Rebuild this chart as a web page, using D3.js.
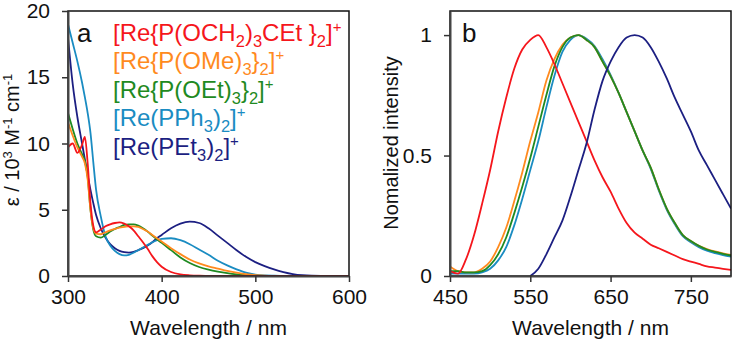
<!DOCTYPE html>
<html>
<head>
<meta charset="utf-8">
<script src="https://cdn.jsdelivr.net/npm/d3@7/dist/d3.min.js"></script>
<style>
  body { margin: 0; background: #fff; }
  svg { display: block; font-family: "Liberation Sans", Arial, sans-serif; }
</style>
</head>
<body>
<svg id="chart" width="736" height="342"></svg>
<script>
// ---- panel a: absorption (ε / 10^3 M^-1 cm^-1) ----
const absWavelength = [300, 305, 310, 315, 318, 321, 324, 327, 330, 335, 340, 345, 350, 355, 360, 365, 370, 375, 380, 385,
  390, 395, 400, 410, 420, 430, 440, 450, 460, 470, 480, 490, 500, 510, 520, 530, 540, 550, 560, 580, 600];
const absOCH2 = [9.7, 10.0, 9.3, 9.9, 10.5, 8.5, 5.5, 3.8, 3.3, 3.5, 3.75, 3.9, 4.0, 4.05, 3.95, 3.75, 3.45, 3.0, 2.55, 2.05,
  1.5, 1.05, 0.7, 0.3, 0.12, 0.05, 0.02, 0.01, 0, 0, 0, 0, 0, 0, 0, 0, 0, 0, 0, 0, 0];
const absOMe = [11.6, 10.6, 9.7, 9.0, 8.5, 7.3, 5.0, 3.6, 3.2, 3.15, 3.3, 3.45, 3.55, 3.65, 3.7, 3.75, 3.75, 3.7, 3.55, 3.35,
  3.1, 2.85, 2.6, 2.1, 1.65, 1.25, 0.95, 0.72, 0.55, 0.38, 0.25, 0.14, 0.07, 0.03, 0.01, 0, 0, 0, 0, 0, 0];
const absOEt = [12.3, 11.1, 10.0, 9.2, 8.7, 7.5, 5.0, 3.5, 3.0, 2.9, 3.1, 3.35, 3.55, 3.7, 3.85, 3.9, 3.9, 3.8, 3.6, 3.35,
  3.05, 2.75, 2.5, 1.95, 1.4, 0.98, 0.68, 0.48, 0.33, 0.21, 0.12, 0.06, 0.03, 0.01, 0, 0, 0, 0, 0, 0, 0];
const absPPh3 = [19.0, 17.6, 16.2, 14.6, 13.5, 12.3, 10.8, 8.6, 6.5, 4.5, 3.0, 2.3, 1.9, 1.65, 1.55, 1.6, 1.75, 1.95, 2.15, 2.35,
  2.55, 2.7, 2.8, 2.85, 2.7, 2.4, 2.0, 1.6, 1.15, 0.8, 0.5, 0.25, 0.1, 0.04, 0.02, 0.01, 0, 0, 0, 0, 0];
const absPEt3 = [18.0, 14.5, 12.0, 10.0, 8.8, 7.6, 6.5, 5.5, 4.6, 3.6, 2.9, 2.4, 2.1, 1.9, 1.8, 1.77, 1.82, 1.95, 2.1, 2.3,
  2.55, 2.85, 3.1, 3.6, 3.95, 4.1, 4.0, 3.6, 3.05, 2.5, 1.95, 1.45, 1.05, 0.75, 0.5, 0.3, 0.15, 0.06, 0.02, 0, 0];
const absXTicks = [300, 400, 500, 600];
const absYTicks = [0, 5, 10, 15, 20];

// ---- panel b: normalized emission ----
const emWavelength = [450, 460, 470, 480, 490, 500, 510, 520, 530, 540, 550, 560, 570, 580, 590, 600, 610, 620, 630, 640,
  650, 660, 670, 680, 690, 700, 710, 720, 730, 740, 750, 760, 770, 780, 790, 800];
const emOCH2 = [0.02, 0.01, 0.07, 0.17, 0.3, 0.44, 0.6, 0.74, 0.86, 0.94, 0.98, 1.0, 0.95, 0.88, 0.8, 0.72, 0.64, 0.56, 0.48, 0.41,
  0.35, 0.28, 0.22, 0.18, 0.155, 0.13, 0.115, 0.1, 0.085, 0.07, 0.06, 0.05, 0.04, 0.035, 0.03, 0.025];
const emOMe = [0.04, 0.02, 0.015, 0.015, 0.03, 0.06, 0.12, 0.2, 0.31, 0.43, 0.56, 0.68, 0.81, 0.9, 0.96, 0.99, 1.0, 0.98, 0.95, 0.89,
  0.83, 0.76, 0.68, 0.6, 0.52, 0.45, 0.36, 0.28, 0.22, 0.17, 0.145, 0.125, 0.112, 0.102, 0.094, 0.087];
const emOEt = [0.02, 0.02, 0.015, 0.015, 0.02, 0.045, 0.09, 0.16, 0.26, 0.37, 0.49, 0.62, 0.75, 0.87, 0.95, 0.99, 1.0, 0.98, 0.95, 0.89,
  0.83, 0.76, 0.68, 0.6, 0.52, 0.45, 0.36, 0.28, 0.22, 0.17, 0.145, 0.125, 0.11, 0.1, 0.092, 0.085];
const emPPh3 = [0.01, 0.01, 0.01, 0.01, 0.015, 0.03, 0.065, 0.12, 0.21, 0.32, 0.44, 0.56, 0.7, 0.83, 0.93, 0.98, 1.0, 0.985, 0.955, 0.9,
  0.835, 0.76, 0.68, 0.6, 0.52, 0.445, 0.355, 0.275, 0.215, 0.165, 0.14, 0.12, 0.105, 0.095, 0.087, 0.08];
const emPEt3 = [null, null, null, null, null, null, null, null, null, null, 0, 0.03, 0.09, 0.16, 0.23, 0.33, 0.44, 0.55, 0.69, 0.81,
  0.89, 0.95, 0.99, 1.0, 0.99, 0.95, 0.89, 0.82, 0.74, 0.67, 0.6, 0.52, 0.46, 0.4, 0.34, 0.28];
const emXTicks = [450, 550, 650, 750];
const emYTicks = [0, 0.5, 1];

const COLORS = {
  och2: '#f5161c',
  ome: '#ff8a1e',
  oet: '#1f8a22',
  pph3: '#1a8cc2',
  pet3: '#1c1f82'
};

// legend text pieces: [text, kind]
const legendLabels = [
  { key: 'och2', parts: [['[Re{P(OCH'], ['2', 'sub'], [')'], ['3', 'sub'], ['CEt }'], ['2', 'sub'], [']'], ['+', 'sup']] },
  { key: 'ome', parts: [['[Re{P(OMe)'], ['3', 'sub'], ['}'], ['2', 'sub'], [']'], ['+', 'sup']] },
  { key: 'oet', parts: [['[Re{P(OEt)'], ['3', 'sub'], ['}'], ['2', 'sub'], [']'], ['+', 'sup']] },
  { key: 'pph3', parts: [['[Re(PPh'], ['3', 'sub'], [')'], ['2', 'sub'], [']'], ['+', 'sup']] },
  { key: 'pet3', parts: [['[Re(PEt'], ['3', 'sub'], [')'], ['2', 'sub'], [']'], ['+', 'sup']] }
];

const svg = d3.select('#chart');
const TICK_FONT = 21;

function drawPanel(cfg) {
  const x = d3.scaleLinear().domain(cfg.xDomain).range([cfg.left, cfg.right]);
  const y = d3.scaleLinear().domain(cfg.yDomain).range([cfg.bottom, cfg.top]);
  const g = svg.append('g');

  g.append('clipPath').attr('id', cfg.id + '-clip')
    .append('rect')
    .attr('x', cfg.left).attr('y', cfg.top)
    .attr('width', cfg.right - cfg.left).attr('height', cfg.bottom - cfg.top);

  const line = d3.line()
    .defined((d) => d[1] != null)
    .x((d) => x(d[0]))
    .y((d) => y(d[1]))
    .curve(d3.curveMonotoneX);

  const curves = g.append('g').attr('clip-path', `url(#${cfg.id}-clip)`);
  cfg.series.forEach((s) => {
    curves.append('path')
      .datum(cfg.xs.map((w, i) => [w, s.values[i]]))
      .attr('fill', 'none')
      .attr('stroke', COLORS[s.key])
      .attr('stroke-width', 1.8)
      .attr('stroke-linejoin', 'round')
      .attr('d', line);
  });

  // frame
  g.append('rect')
    .attr('x', cfg.left).attr('y', cfg.top)
    .attr('width', cfg.right - cfg.left).attr('height', cfg.bottom - cfg.top)
    .attr('fill', 'none').attr('stroke', '#111').attr('stroke-width', 1.5);

  g.append('g')
    .attr('transform', `translate(0,${cfg.bottom})`)
    .call(d3.axisBottom(x).tickValues(cfg.xTicks).tickSize(6).tickPadding(7).tickSizeOuter(0))
    .call((a) => a.select('.domain').attr('stroke', '#444').attr('stroke-width', 2))
    .call((a) => a.selectAll('line').attr('stroke', '#333').attr('stroke-width', 1.5))
    .call((a) => a.selectAll('text').attr('font-size', TICK_FONT).attr('fill', '#111')
      .attr('font-family', '"Liberation Sans", Arial, sans-serif'));

  g.append('g')
    .attr('transform', `translate(${cfg.left},0)`)
    .call(d3.axisLeft(y).tickValues(cfg.yTicks).tickSize(6).tickPadding(12).tickSizeOuter(0).tickFormat(cfg.yFormat))
    .call((a) => a.select('.domain').attr('stroke', '#444').attr('stroke-width', 2))
    .call((a) => a.selectAll('line').attr('stroke', '#333').attr('stroke-width', 1.5))
    .call((a) => a.selectAll('text').attr('font-size', TICK_FONT).attr('fill', '#111')
      .attr('font-family', '"Liberation Sans", Arial, sans-serif'));

  g.append('text')
    .attr('x', (cfg.left + cfg.right) / 2)
    .attr('y', 335)
    .attr('text-anchor', 'middle')
    .attr('font-size', TICK_FONT)
    .attr('fill', '#111')
    .text('Wavelength / nm');

  g.append('text')
    .attr('x', cfg.left + cfg.letterDx)
    .attr('y', 42)
    .attr('font-size', 26)
    .attr('fill', '#111')
    .text(cfg.letter);

  return { g, x, y };
}

// panel a
const pa = drawPanel({
  id: 'a', letter: 'a', letterDx: 9,
  left: 68, right: 349, top: 11, bottom: 276,
  xDomain: [300, 600], yDomain: [0, 20],
  xs: absWavelength, xTicks: absXTicks, yTicks: absYTicks, yFormat: d3.format('d'),
  series: [
    { key: 'pet3', values: absPEt3 },
    { key: 'pph3', values: absPPh3 },
    { key: 'oet', values: absOEt },
    { key: 'ome', values: absOMe },
    { key: 'och2', values: absOCH2 }
  ]
});

// y title a: ε / 10^3 M^-1 cm^-1
const ta = svg.append('text')
  .attr('transform', 'translate(19,140) rotate(-90)')
  .attr('text-anchor', 'middle')
  .attr('font-size', 20)
  .attr('fill', '#111');
ta.append('tspan').text('ε / 10');
ta.append('tspan').attr('font-size', 13).attr('dy', -7).text('3');
ta.append('tspan').attr('dy', 7).text(' M');
ta.append('tspan').attr('font-size', 13).attr('dy', -7).text('-1');
ta.append('tspan').attr('dy', 7).text(' cm');
ta.append('tspan').attr('font-size', 13).attr('dy', -7).text('-1');

// legend
const legend = svg.append('g');
legendLabels.forEach((item, i) => {
  const t = legend.append('text')
    .attr('x', 113)
    .attr('y', 41 + i * 28.4)
    .attr('font-size', 24)
    .attr('fill', COLORS[item.key]);
  let shift = 0;
  item.parts.forEach(([txt, kind]) => {
    let target = 0;
    let size = 24;
    if (kind === 'sub') { target = 6; size = 16.5; }
    if (kind === 'sup') { target = -9; size = 15; }
    t.append('tspan')
      .attr('dy', target - shift)
      .attr('font-size', size)
      .text(txt);
    shift = target;
  });
});

// panel b
const pb = drawPanel({
  id: 'b', letter: 'b', letterDx: 12,
  left: 450, right: 731, top: 11, bottom: 276,
  xDomain: [450, 800], yDomain: [0, 1.1],
  xs: emWavelength, xTicks: emXTicks, yTicks: emYTicks, yFormat: (d) => String(d),
  series: [
    { key: 'pph3', values: emPPh3 },
    { key: 'ome', values: emOMe },
    { key: 'oet', values: emOEt },
    { key: 'och2', values: emOCH2 },
    { key: 'pet3', values: emPEt3 }
  ]
});

svg.append('text')
  .attr('transform', 'translate(398,143) rotate(-90)')
  .attr('text-anchor', 'middle')
  .attr('font-size', 20)
  .attr('fill', '#111')
  .text('Nomalized intensity');
</script>
</body>
</html>
